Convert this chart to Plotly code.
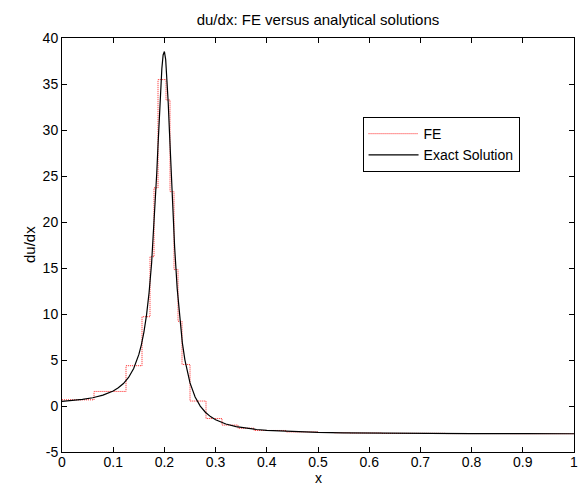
import plotly.graph_objects as go

# FE mesh nodes and piecewise-constant FE derivative on each element
fe_nodes = [0, 0.0625, 0.125, 0.15625, 0.171875, 0.1796875, 0.1875, 0.203125,
            0.2109375, 0.21875, 0.2265625, 0.234375, 0.25, 0.28125, 0.3125,
            0.34375, 0.375, 0.4375, 0.5, 0.53125, 0.5625, 0.625, 0.75, 0.875, 1.0]
fe_vals = [0.672, 1.582, 4.380, 9.708, 16.229, 23.715, 35.481, 33.264, 23.300,
           14.830, 9.210, 4.514, 0.539, -1.362, -2.074, -2.415, -2.660, -2.818,
           -2.881, -2.909, -2.938, -2.974, -2.999, -3.012]

# Exact solution du/dx sampled
ex_x = [0, 0.02, 0.04, 0.06, 0.08, 0.10, 0.11, 0.12, 0.13, 0.14, 0.15, 0.155,
        0.16, 0.165, 0.17, 0.175, 0.18, 0.185, 0.1875, 0.19, 0.1925, 0.195,
        0.1975, 0.2, 0.2025, 0.205, 0.2075, 0.21, 0.2125, 0.215, 0.22, 0.225,
        0.23, 0.235, 0.24, 0.245, 0.25, 0.26, 0.27, 0.28, 0.29, 0.30, 0.32,
        0.34, 0.36, 0.38, 0.40, 0.45, 0.50, 0.55, 0.60, 0.70, 0.80, 0.90, 1.0]
ex_y = [0.495, 0.587, 0.714, 0.898, 1.178, 1.633, 1.975, 2.443, 3.104, 4.078,
        5.581, 6.651, 8.036, 9.857, 12.281, 15.523, 19.814, 25.252, 28.301,
        31.393, 34.285, 36.656, 38.161, 38.529, 37.666, 35.696, 32.910, 29.665,
        26.285, 23.005, 17.244, 12.755, 9.392, 6.893, 5.022, 3.603, 2.511,
        0.980, -0.009, -0.679, -1.153, -1.498, -1.958, -2.240, -2.425, -2.553,
        -2.645, -2.787, -2.865, -2.912, -2.942, -2.978, -2.998, -3.009, -3.017]

x_ticks = [0, 0.1, 0.2, 0.3, 0.4, 0.5, 0.6, 0.7, 0.8, 0.9, 1]
y_ticks = [-5, 0, 5, 10, 15, 20, 25, 30, 35, 40]

FONT = "Arial, 'Liberation Sans', sans-serif"

fig = go.Figure()
fig.add_trace(go.Scatter(
    x=fe_nodes, y=fe_vals + [fe_vals[-1]], mode="lines", line_shape="hv",
    name="FE", line=dict(color="#ff2020", width=1, dash="1px,1px")))
fig.add_trace(go.Scatter(
    x=ex_x, y=ex_y, mode="lines", name="Exact Solution",
    line=dict(color="black", width=1.2)))

axis_common = dict(
    showgrid=False, zeroline=False, showline=True, linecolor="black",
    linewidth=1, mirror="ticks", ticks="inside", ticklen=5, tickcolor="black",
    ticklabeloverflow="allow",
    tickfont=dict(family=FONT, size=14, color="black"))

fig.update_xaxes(range=[0, 1], tickvals=x_ticks, ticklabelstandoff=-3,
                 ticktext=[str(v) for v in x_ticks], **axis_common)
fig.update_yaxes(range=[-5, 40], tickvals=y_ticks,
                 ticktext=[str(v) for v in y_ticks], **axis_common)

fig.update_layout(
    width=581, height=487,
    margin=dict(l=62, r=3, t=38, b=35),
    plot_bgcolor="white", paper_bgcolor="white",
    font=dict(family=FONT, size=15, color="black"),
    title=dict(text="du/dx: FE versus analytical solutions", x=0.5,
               xref="paper", y=1 - 20 / 487, yanchor="middle",
               font=dict(family=FONT, size=15, color="black")),
    showlegend=True,
    legend=dict(x=0.587, y=0.809, xanchor="left", yanchor="top",
                bgcolor="white", bordercolor="black", borderwidth=1,
                font=dict(family=FONT, size=14, color="black"),
                itemwidth=50, tracegroupgap=0),
    annotations=[
        dict(text="x", xref="paper", yref="paper", x=0.5, y=0, yshift=-35,
             showarrow=False, xanchor="center", yanchor="bottom", borderpad=0,
             font=dict(family=FONT, size=14, color="black")),
        dict(text="du/dx", xref="paper", yref="paper", x=0, y=0.5,
             xshift=-33, textangle=-90, showarrow=False, xanchor="center",
             yanchor="middle", font=dict(family=FONT, size=15, color="black")),
    ],
)

fig.write_html("out.html")
